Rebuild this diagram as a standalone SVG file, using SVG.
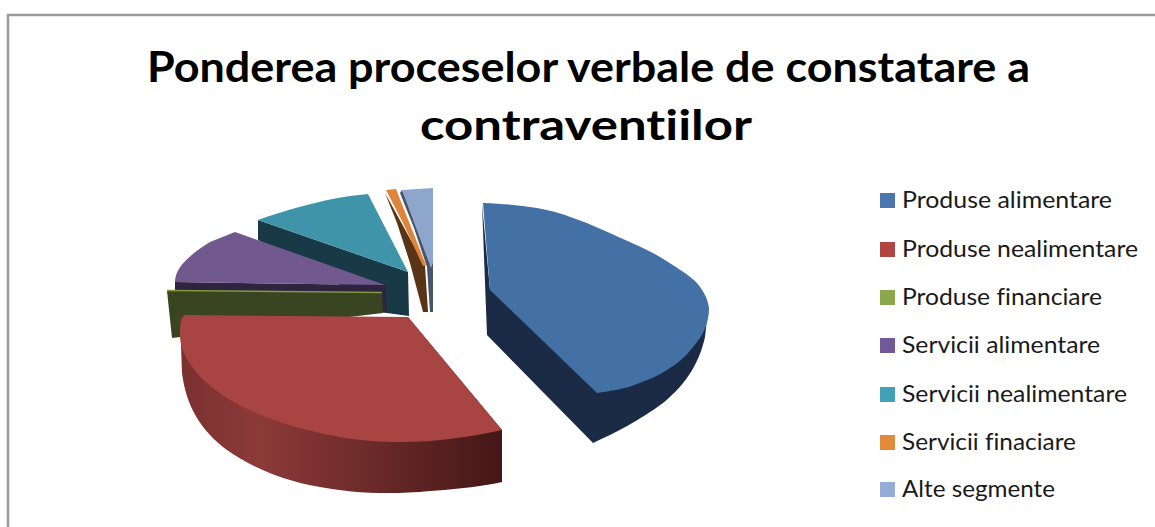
<svg xmlns="http://www.w3.org/2000/svg" width="1155" height="527" viewBox="0 0 1155 527">
<defs>
<style>
.title{font-family:Lato,"Open Sans","Liberation Sans",sans-serif;font-weight:bold;font-size:42px;fill:#000;font-variant-ligatures:none;font-feature-settings:"liga" 0,"clig" 0,"dlig" 0}
.leg{font-family:Lato,"Open Sans","Liberation Sans",sans-serif;font-size:23px;fill:#1a1a1a;font-variant-ligatures:none;font-feature-settings:"liga" 0,"clig" 0,"dlig" 0}
</style>
<linearGradient id="redSide" x1="180" y1="0" x2="502" y2="0" gradientUnits="userSpaceOnUse">
<stop offset="0" stop-color="#7a3130"/>
<stop offset="0.25" stop-color="#8c3a38"/>
<stop offset="1" stop-color="#441717"/>
</linearGradient>
</defs>
<rect width="1155" height="527" fill="#fff"/>
<path d="M8,527 L8,15 L1155,15" fill="none" stroke="#9a9a9a" stroke-width="2.5"/>
<g id="title">
<text class="title" x="147" y="82" textLength="883" lengthAdjust="spacingAndGlyphs">Ponderea proceselor verbale de constatare a</text>
<text class="title" x="420" y="140" textLength="332" lengthAdjust="spacingAndGlyphs">contraventiilor</text>
</g>
<g id="slice-servicii-nealimentare">
<path d="M258,220 L408,272 L409,316 L387,313 L300,262 L258,240 Z" fill="#173a46"/>
<path d="M258,220 C283,211 317,201 350,196 L368,194 L408,272 Z" fill="#3f94aa"/>
</g>
<g id="slice-servicii-alimentare">
<path d="M175,282 L385,285 L387,313 L175,293 Z" fill="#2f2440"/>
<path d="M175,282 C175,268 188,256 210,242 L235,232 L385,285 Z" fill="#71588f"/>
</g>
<g id="slice-produse-financiare">
<path d="M167,291 L382,293 L383,313 L172,338 Z" fill="#394420"/>
<path d="M167,290.5 L382,292.5" stroke="#7f9a40" stroke-width="1.5"/>
</g>
<g id="slice-servicii-finaciare">
<path d="M385,193 L425,266 L428,312 L423,312 L410,263 L397,223 Z" fill="#5a3416"/>
<path d="M386,190 L396,189 L426,265 L423,266 L403,223 Z" fill="#df843b"/>
</g>
<g id="slice-alte-segmente">
<path d="M400,193 L414,228 L427,267 L430,312 L433,312 L433,262 L402,190 Z" fill="#48546a"/>
<path d="M402,190 L433,188 L433,263 L431,268 Z" fill="#8fa6cc"/>
</g>
<g id="slice-produse-nealimentare">
<path d="M180,318 L182,373 C186,405 200,430 227,450 C250,466 280,480 320,487 C350,493 390,495 430,491 C460,489 485,486 502,482 L502,430 L408,317 Z" fill="url(#redSide)"/>
<path d="M184,315 L408,317 L502,430 C470,437 430,443 393,442 C350,442 290,430 243,407 C210,390 190,370 182,348 C179,338 179,322 184,315 Z" fill="#a84442"/>
</g>
<g id="slice-produse-alimentare">
<path d="M482,204 L487,335 L593,443 C615,433 640,420 663,403 C688,383 700,360 705,337 L708,310 L490,290 Z" fill="#1b2a45"/>
<path d="M483,203 C505,204 520,205 537,208 C560,212 583,221 603,230 C625,240 645,248 660,257 C678,268 690,276 697,283 C705,293 708,300 709,308 C709,320 705,332 697,342 C688,354 680,362 670,368 C660,375 648,380 637,384 C625,389 610,391 597,393 L490,290 Z" fill="#4370a5"/>
</g>
<g id="legend">
<g id="leg-produse-alimentare"><rect x="880" y="193" width="15" height="15" fill="#4a76ad"/><text class="leg" x="902" y="208" textLength="210" lengthAdjust="spacingAndGlyphs">Produse alimentare</text></g>
<g id="leg-produse-nealimentare"><rect x="880" y="242" width="15" height="15" fill="#b04541"/><text class="leg" x="902" y="257" textLength="236" lengthAdjust="spacingAndGlyphs">Produse nealimentare</text></g>
<g id="leg-produse-financiare"><rect x="880" y="290" width="15" height="15" fill="#8aa84b"/><text class="leg" x="902" y="305" textLength="200" lengthAdjust="spacingAndGlyphs">Produse financiare</text></g>
<g id="leg-servicii-alimentare"><rect x="880" y="338" width="15" height="15" fill="#735897"/><text class="leg" x="902" y="353" textLength="198" lengthAdjust="spacingAndGlyphs">Servicii alimentare</text></g>
<g id="leg-servicii-nealimentare"><rect x="880" y="387" width="15" height="15" fill="#42a0b7"/><text class="leg" x="902" y="402" textLength="225" lengthAdjust="spacingAndGlyphs">Servicii nealimentare</text></g>
<g id="leg-servicii-finaciare"><rect x="880" y="435" width="15" height="15" fill="#e18a3c"/><text class="leg" x="902" y="450" textLength="174" lengthAdjust="spacingAndGlyphs">Servicii finaciare</text></g>
<g id="leg-alte-segmente"><rect x="880" y="482" width="15" height="15" fill="#95add6"/><text class="leg" x="902" y="497" textLength="153" lengthAdjust="spacingAndGlyphs">Alte segmente</text></g>
</g>
</svg>
